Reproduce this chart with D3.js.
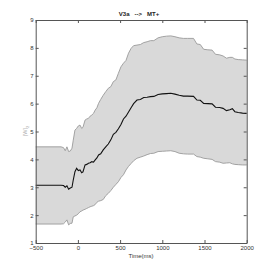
<!DOCTYPE html>
<html><head><meta charset="utf-8">
<script src="https://cdn.jsdelivr.net/npm/d3@7"></script>
<style>body{margin:0;background:#fff}svg{display:block}text{font-family:"Liberation Sans",Arial,sans-serif}</style>
</head><body>
<svg id="c" width="273" height="273"></svg>
<script>
const time = [-500,-200,-170,-150,-130,-110,-90,-70,-55,-35,-15,5,25,45,60,85,105,125,145,165,185,205,225,245,270,300,330,360,390,420,450,480,510,540,570,600,630,660,700,740,780,820,860,900,950,1000,1050,1100,1150,1200,1250,1300,1370,1410,1450,1490,1540,1590,1630,1680,1720,1760,1800,1830,1860,1900,1950,2000];
const meanVals = [3.07,3.07,3.06,3.0,3.05,2.93,2.97,3.0,3.26,3.56,3.68,3.6,3.62,3.52,3.55,3.8,3.82,3.86,3.88,3.92,3.9,3.98,4.05,4.16,4.2,4.34,4.45,4.55,4.7,4.9,4.97,5.1,5.25,5.45,5.55,5.7,5.85,6.0,6.13,6.15,6.22,6.23,6.25,6.26,6.33,6.35,6.36,6.37,6.34,6.3,6.27,6.27,6.26,6.13,6.12,6.01,6.0,5.99,5.87,5.86,5.83,5.75,5.78,5.82,5.71,5.68,5.66,5.65];
const upperVals = [4.45,4.45,4.42,4.31,4.45,4.28,4.3,4.4,4.69,5.05,5.11,5.2,5.23,5.11,5.15,5.41,5.45,5.47,5.55,5.59,5.65,5.77,5.85,6.01,6.15,6.3,6.43,6.55,6.61,6.79,6.85,7.09,7.32,7.45,7.55,7.81,7.98,8.08,8.1,8.12,8.19,8.22,8.26,8.26,8.36,8.4,8.42,8.43,8.4,8.36,8.34,8.34,8.34,8.14,8.12,7.95,7.93,7.92,7.77,7.75,7.71,7.63,7.66,7.66,7.6,7.58,7.57,7.56];
const lowerVals = [1.68,1.68,1.69,1.75,1.83,1.65,1.7,1.71,1.94,1.97,2.0,2.05,2.12,2.15,2.18,2.21,2.24,2.27,2.30,2.32,2.34,2.38,2.46,2.5,2.52,2.56,2.7,2.78,2.88,3.0,3.1,3.2,3.35,3.45,3.62,3.75,3.85,3.95,4.04,4.08,4.12,4.17,4.21,4.22,4.28,4.29,4.3,4.31,4.28,4.22,4.2,4.19,4.19,4.1,4.08,4.04,4.02,4.0,3.92,3.9,3.86,3.87,3.88,3.84,3.82,3.81,3.8,3.8];
const xTicks = [-500,0,500,1000,1500,2000];
const yTicks = [1,2,3,4,5,6,7,8,9];
const titleText = "V3a   -->   MT+";
const xLabel = "Time(ms)";

const L = 35.7, R = 246.7, T = 20, B = 243;
const svg = d3.select("#c");
const x = d3.scaleLinear().domain([-500,2000]).range([L,R]);
const y = d3.scaleLinear().domain([1,9]).range([B,T]);
const data = time.map((t,i)=>({t, m:meanVals[i], u:upperVals[i], l:lowerVals[i]}));

svg.append("path").datum(data)
  .attr("d", d3.area().x(d=>x(d.t)).y0(d=>y(d.l)).y1(d=>y(d.u)))
  .attr("fill","#d9d9d9").attr("stroke","none");
svg.append("path").datum(data)
  .attr("d", d3.line().x(d=>x(d.t)).y(d=>y(d.u)))
  .attr("fill","none").attr("stroke","#9a9a9a").attr("stroke-width",0.9);
svg.append("path").datum(data)
  .attr("d", d3.line().x(d=>x(d.t)).y(d=>y(d.l)))
  .attr("fill","none").attr("stroke","#9a9a9a").attr("stroke-width",0.9);
svg.append("path").datum(data)
  .attr("d", d3.line().x(d=>x(d.t)).y(d=>y(d.m)))
  .attr("fill","none").attr("stroke","#111").attr("stroke-width",1.1);

const axCol = "#555";
const fmt = d3.format("d");
function styleAxis(g, hideText){
  g.select(".domain").attr("stroke",axCol);
  g.selectAll(".tick line").attr("stroke",axCol);
  g.selectAll("text").attr("fill","#333").style("font-size","6px");
  if(hideText) g.selectAll("text").remove();
}
svg.append("g").attr("transform",`translate(0,${B})`)
  .call(d3.axisBottom(x).tickValues(xTicks).tickFormat(fmt).tickSizeInner(-3).tickSizeOuter(0).tickPadding(3))
  .call(g=>styleAxis(g,false));
svg.append("g").attr("transform",`translate(0,${T})`)
  .call(d3.axisTop(x).tickValues(xTicks).tickSizeInner(-3).tickSizeOuter(0))
  .call(g=>styleAxis(g,true));
svg.append("g").attr("transform",`translate(${L},0)`)
  .call(d3.axisLeft(y).tickValues(yTicks).tickFormat(fmt).tickSizeInner(-3).tickSizeOuter(0).tickPadding(2))
  .call(g=>styleAxis(g,false));
svg.append("g").attr("transform",`translate(${R},0)`)
  .call(d3.axisRight(y).tickValues(yTicks).tickSizeInner(-3).tickSizeOuter(0))
  .call(g=>styleAxis(g,true));

svg.append("text").attr("x",139).attr("y",16).attr("text-anchor","middle")
  .style("font-size","6px").style("font-weight","bold").attr("fill","#222")
  .attr("xml:space","preserve").text(titleText);
svg.append("text").attr("x",141).attr("y",258).attr("text-anchor","middle")
  .style("font-size","6px").attr("fill","#333").text(xLabel);
const yl = svg.append("text").attr("transform","translate(27,131) rotate(-90)")
  .attr("text-anchor","middle").style("font-size","5.5px").attr("fill","#aaa");
yl.append("tspan").text("|W|");
yl.append("tspan").attr("dy",1.5).style("font-size","4px").text("2");
</script>
</body></html>
